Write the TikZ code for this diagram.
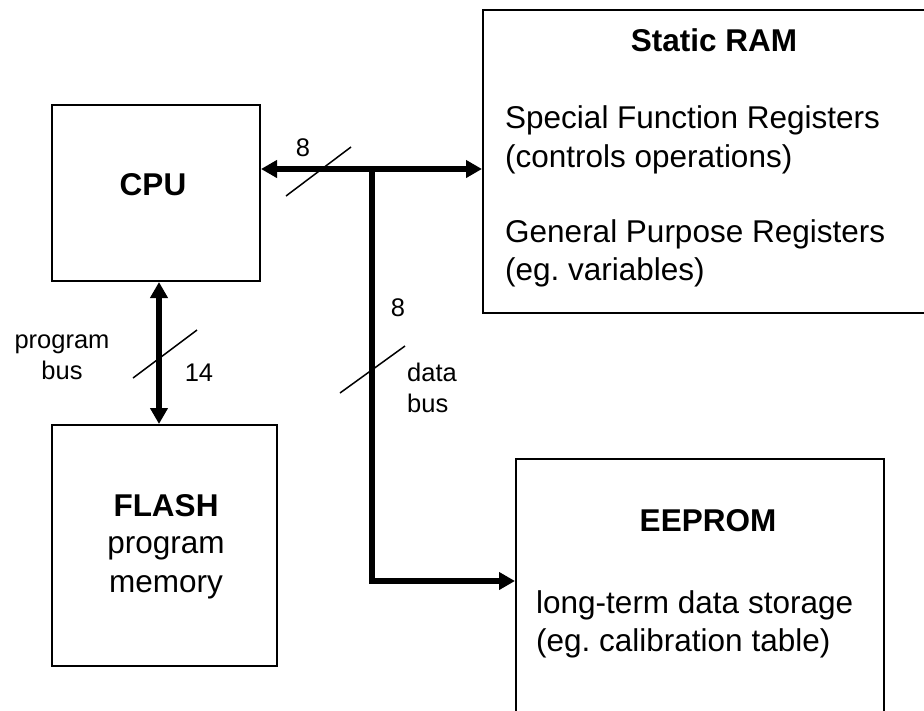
\documentclass[tikz,border=0pt]{standalone}
\usepackage{fontspec}
\setmainfont{Liberation Sans}
\usetikzlibrary{arrows.meta}
\frenchspacing

\tikzset{
  block/.style={draw=black, line width=2pt, fill=none, inner sep=0pt, outer sep=1pt},
  bigtext/.style={font=\fontsize{31.5}{38}\selectfont, inner sep=0pt},
  boldtext/.style={font=\fontsize{31.5}{38}\selectfont\bfseries, inner sep=0pt},
  smalltext/.style={font=\fontsize{25.5}{31}\selectfont, inner sep=0pt},
  bus/.style={line width=5.5pt, arrows={-Triangle[length=16pt, width=17pt]}},
  dbus/.style={line width=5.5pt, arrows={Triangle[length=16pt, width=17pt]-Triangle[length=16pt, width=17pt]}},
  buswidth/.style={line width=1.5pt}
}

\begin{document}
\begin{tikzpicture}[x=1pt, y=-1pt]
  % page area; the RAM and EEPROM boxes run past its edges
  \clip (0,0) rectangle (924,710);
  \fill[white] (0,0) rectangle (924,710);

  % blocks
  \node[block, minimum width=208pt, minimum height=176pt] (cpu)    at (156,193)    {};
  \node[block, minimum width=460pt, minimum height=303.5pt] (ram)  at (713,161.25) {};
  \node[block, minimum width=225pt, minimum height=241pt] (flash)  at (164.5,545.5) {};
  \node[block, minimum width=368pt, minimum height=290pt] (eeprom) at (700,604)    {};

  % block texts
  \node[boldtext, anchor=base] (cputxt) at (153,195) {CPU};

  \node[boldtext, anchor=base] (ramtitle) at (714,51) {Static RAM};
  \node[bigtext, anchor=base west] (sfr1) at (505,128) {Special Function Registers};
  \node[bigtext, anchor=base west] (sfr2) at (505,167) {(controls operations)};
  \node[bigtext, anchor=base west] (gpr1) at (505,242) {General Purpose Registers};
  \node[bigtext, anchor=base west] (gpr2) at (505,280) {(eg. variables)};

  \node[boldtext, anchor=base] (flashtitle) at (166,516) {FLASH};
  \node[bigtext, anchor=base] (flash1) at (166,553) {program};
  \node[bigtext, anchor=base] (flash2) at (166,592) {memory};

  \node[boldtext, anchor=base] (eetitle) at (708,531) {EEPROM};
  \node[bigtext, anchor=base west] (ee1) at (536,613) {long-term data storage};
  \node[bigtext, anchor=base west] (ee2) at (536,651) {(eg. calibration table)};

  % bus routing points
  \coordinate (j)  at (372,169);
  \coordinate (ee) at (372,581);
  \coordinate (pb) at (159,0);

  % data bus: CPU <-> RAM, branch down to EEPROM
  \draw[dbus] (cpu.east |- j) -- (ram.west |- j);
  \draw[bus, line join=miter] (j) -- (ee) -- (eeprom.west |- ee);

  % program bus: CPU <-> FLASH
  \draw[dbus] (cpu.south -| pb) -- (flash.north -| pb);

  % bus width marks
  \draw[buswidth] (286,196) -- (351,147);
  \draw[buswidth] (133,378) -- (197,330);
  \draw[buswidth] (340,393) -- (405,346);

  % bus labels
  \node[smalltext] (w1) at (303,148) {8};
  \node[smalltext] (w2) at (398,308) {8};
  \node[smalltext] (w3) at (199,373) {14};
  \node[smalltext, align=center] (pbus) at (62,357) {program\\bus};
  \node[smalltext, align=left, anchor=west] (dbuslbl) at (407,388) {data\\bus};
\end{tikzpicture}
\end{document}
